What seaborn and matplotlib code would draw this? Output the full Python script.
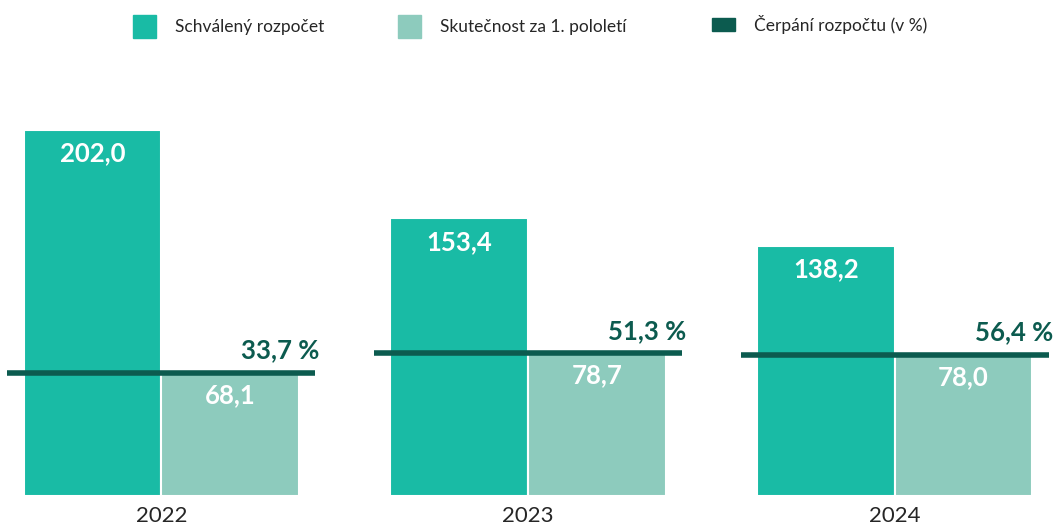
import pandas as pd
import matplotlib.pyplot as plt
import seaborn as sns
from matplotlib.patches import Patch

years = ["2022", "2023", "2024"]
budget = [202.0, 153.4, 138.2]
actual = [68.1, 78.7, 78.0]
drawdown_pct = [33.7, 51.3, 56.4]

series_names = ["Schválený rozpočet", "Skutečnost za 1. pololetí", "Čerpání rozpočtu (v %)"]

c_budget = "#19BBA5"
c_actual = "#8DCBBD"
c_line = "#0C5B4F"


def cz(v):
    return f"{v:.1f}".replace(".", ",")


df = pd.DataFrame({
    "year": years * 2,
    "value": budget + actual,
    "series": [series_names[0]] * 3 + [series_names[1]] * 3,
})

sns.set_style("white")
plt.rcParams["font.family"] = ["Lato", "DejaVu Sans"]

fig = plt.figure(figsize=(10.56, 5.24), dpi=100)
ax = fig.add_axes([0, 0.0534, 1, 0.832])

sns.barplot(data=df, x="year", y="value", hue="series",
            palette=[c_budget, c_actual], saturation=1, width=0.75,
            edgecolor="white", linewidth=1.5, ax=ax, legend=False)

for i, (b, a, p) in enumerate(zip(budget, actual, drawdown_pct)):
    ax.hlines(a, i - 0.42, i + 0.42, color=c_line, lw=4, zorder=5)
    ax.annotate(cz(b), (i - 0.1875, b), xytext=(0, -17), textcoords="offset points",
                ha="center", va="center", color="white", fontsize=18.5, fontweight="bold")
    ax.annotate(cz(a), (i + 0.1875, a), xytext=(0, -16), textcoords="offset points",
                ha="center", va="center", color="white", fontsize=18.5, fontweight="bold")
    ax.annotate(cz(p) + " %", (i + 0.42, a), xytext=(3, 16), textcoords="offset points",
                ha="right", va="center", color=c_line, fontsize=18.5, fontweight="bold")

ax.set_xlim(-0.44, 2.44)
ax.set_ylim(0, 240.6)
ax.set_xlabel("")
ax.set_ylabel("")
ax.set_yticks([])
ax.tick_params(axis="x", length=0, labelsize=16, pad=7)
sns.despine(ax=ax, left=True, bottom=True)

# legend entries placed one by one (uneven spacing in the original)
colors = [c_budget, c_actual, c_line]
anchors = [121 / 1056, 386 / 1056, 700 / 1056]
hsizes = [(1.3, 1.65), (1.3, 1.65), (1.3, 0.8)]
for name, col, xa, (hl, hh) in zip(series_names, colors, anchors, hsizes):
    fig.legend([Patch(color=col)], [name], loc="upper left",
               bbox_to_anchor=(xa, 0.995), frameon=False, fontsize=12.5,
               handlelength=hl, handleheight=hh, handletextpad=1.1,
               borderaxespad=0.3)

fig.savefig("out.png", dpi=100)
